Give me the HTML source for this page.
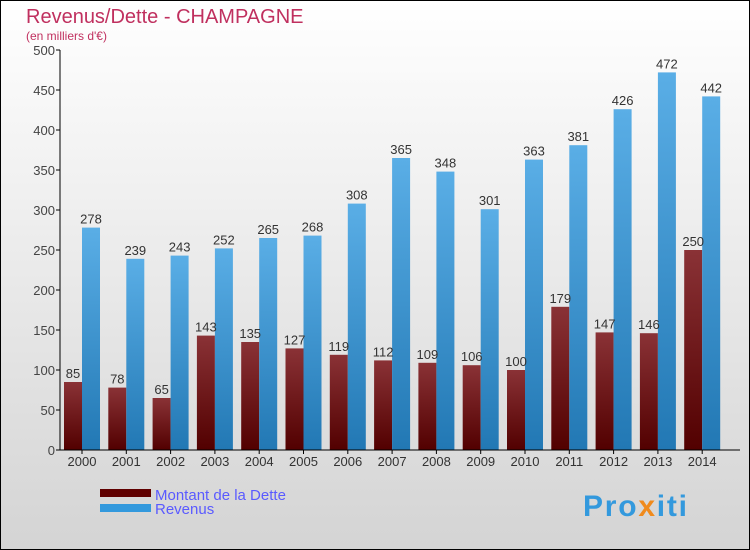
<!DOCTYPE html>
<html><head><meta charset="utf-8"><style>
body{margin:0}
svg{display:block;font-family:"Liberation Sans",sans-serif}
</style></head><body>
<svg width="750" height="550" viewBox="0 0 750 550">
<defs>
<linearGradient id="bg" x1="0" y1="0" x2="0" y2="1"><stop offset="0" stop-color="#ffffff"/><stop offset="1" stop-color="#d4d4d4"/></linearGradient>
<linearGradient id="gd" x1="0" y1="0" x2="0" y2="1"><stop offset="0" stop-color="#8a3236"/><stop offset="1" stop-color="#520000"/></linearGradient>
<linearGradient id="gr" x1="0" y1="0" x2="0" y2="1"><stop offset="0" stop-color="#5aaee6"/><stop offset="1" stop-color="#2278b4"/></linearGradient>
</defs>
<rect x="0.5" y="0.5" width="749" height="549" fill="url(#bg)" stroke="#000"/>
<text x="26" y="23" font-size="20" fill="#c0305f">Revenus/Dette - CHAMPAGNE</text>
<text x="26" y="40" font-size="12" fill="#c0305f">(en milliers d'€)</text>
<g id="plot"></g>
<g>
<rect x="100" y="489" width="51" height="8" fill="#600000"/>
<text x="155" y="500" font-size="15" fill="#5a5aff">Montant de la Dette</text>
<rect x="100" y="504" width="51" height="8" fill="#3399dd"/>
<text x="155" y="514" font-size="15" fill="#5a5aff">Revenus</text>
</g>
<text x="583" y="516" font-size="30" font-weight="bold" fill="#3399dd" textLength="104">Pro<tspan fill="#f08a1c">x</tspan>iti</text>
</svg>
<script>
const years=["2000","2001","2002","2003","2004","2005","2006","2007","2008","2009","2010","2011","2012","2013","2014"];
const dette=[85,78,65,143,135,127,119,112,109,106,100,179,147,146,250];
const revenus=[278,239,243,252,265,268,308,365,348,301,363,381,426,472,442];
const yTicks=[0,50,100,150,200,250,300,350,400,450,500];
const NS="http://www.w3.org/2000/svg";
const g=document.getElementById('plot');
const x0=60,y0=450,step=44.3,bw=18;
const y=v=>y0-v*0.8;
function mk(t,a,p){const e=document.createElementNS(NS,t);for(const k in a)e.setAttribute(k,a[k]);(p||g).appendChild(e);return e;}
yTicks.forEach(v=>{
 const t=mk('line',{x1:x0-4,x2:x0,y1:y(v),y2:y(v),stroke:'#000'});
 
 
 const l=mk('text',{x:x0-5,y:y(v)+5,'font-size':13,fill:'#444','text-anchor':'end'});l.textContent=v;
 
 
});
years.forEach((yr,i)=>{
 const xs=x0+4+i*step;
 const b1=mk('rect',{x:xs,y:y(dette[i]),width:bw,height:dette[i]*0.8,fill:'url(#gd)'});
 
 
 const b2=mk('rect',{x:xs+bw,y:y(revenus[i]),width:bw,height:revenus[i]*0.8,fill:'url(#gr)'});
 
 
 const l1=mk('text',{x:xs+bw/2,y:y(dette[i])-4,'font-size':13,fill:'#333','text-anchor':'middle'});l1.textContent=dette[i];
 
 
 const l2=mk('text',{x:xs+bw*1.5,y:y(revenus[i])-4,'font-size':13,fill:'#333','text-anchor':'middle'});l2.textContent=revenus[i];
 
 
 const xl=mk('text',{x:xs+bw,y:y0+16,'font-size':13,fill:'#333','text-anchor':'middle'});xl.textContent=yr;
 
 
 const xt=mk('line',{x1:xs+bw,x2:xs+bw,y1:y0,y2:y0+4,stroke:'#000'});
 
 
});
const ya=mk('line',{x1:x0,x2:x0,y1:y(500),y2:y0,stroke:'#000'});


const xa=mk('line',{x1:x0,x2:740,y1:y0,y2:y0,stroke:'#000'});


</script>
</body></html>
